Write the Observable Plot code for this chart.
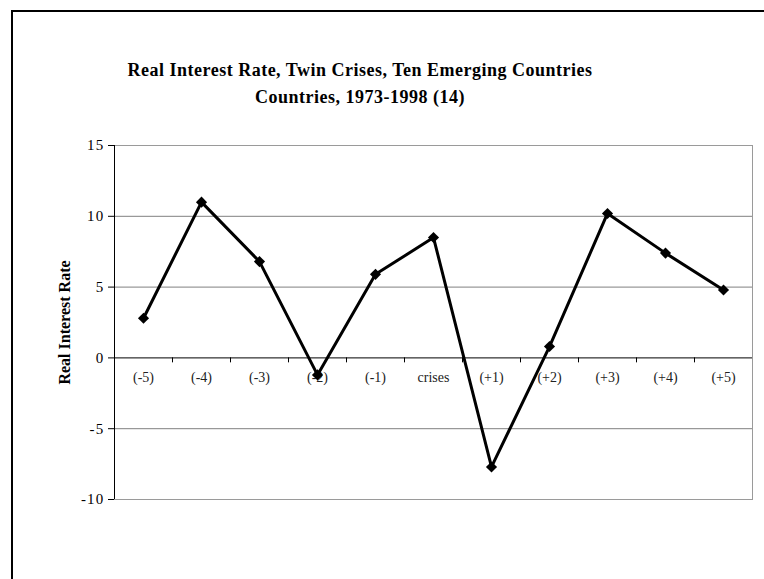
<!DOCTYPE html>
<html><head><meta charset="utf-8">
<script src="https://cdn.jsdelivr.net/npm/d3@7"></script>
<script src="https://cdn.jsdelivr.net/npm/@observablehq/plot@0.6"></script>
<style>
html,body{margin:0;padding:0;background:#fff;overflow:hidden;}
#page{position:relative;width:764px;height:579px;}
#border{position:absolute;left:11px;top:10px;width:800px;height:600px;border-left:2px solid #000;border-top:2px solid #000;}
#title{position:absolute;left:0;width:720px;top:57px;text-align:center;font-family:"Liberation Serif",serif;font-weight:bold;font-size:18px;line-height:27px;letter-spacing:0.5px;color:#000;}
#chart{position:absolute;left:0;top:0;}
#chart g[aria-label="y-axis tick label"]{font-size:15px;letter-spacing:1.2px;}
</style></head>
<body><div id="page"><div id="border"></div><div id="chart"></div><div id="title"></div></div>
<script>
const categories = ["(-5)", "(-4)", "(-3)", "(-2)", "(-1)", "crises", "(+1)", "(+2)", "(+3)", "(+4)", "(+5)"];
const values = [2.8, 11.0, 6.8, -1.2, 5.9, 8.5, -7.7, 0.8, 10.2, 7.4, 4.8];
const yTicks = [-10, -5, 0, 5, 10, 15];
const gridValues = [-5, 5, 10];
const yLabel = "Real Interest Rate";
const titleLines = ["Real Interest Rate, Twin Crises, Ten Emerging Countries", "Countries, 1973-1998 (14)"];

document.getElementById("title").innerHTML = titleLines.join("<br>");

const data = categories.map((c, i) => ({cat: c, pos: i + 0.5, value: values[i]}));
const boundaries = d3.range(1, categories.length);

const chart = Plot.plot({
  width: 764, height: 579,
  marginLeft: 114, marginRight: 12, marginTop: 145, marginBottom: 80,
  x: {domain: [0, categories.length], axis: null},
  y: {domain: [-10, 15], axis: null},
  style: {background: "transparent", fontFamily: "'Liberation Serif', serif", fontSize: "13px", color: "#000"},
  marks: [
    Plot.ruleY(gridValues, {stroke: "#808080", strokeWidth: 1}),
    Plot.frame({stroke: "#9a9a9a"}),
    Plot.ruleY([0], {stroke: "#000"}),
    Plot.ruleX(boundaries, {y1: 0, y2: -0.35, stroke: "#000"}),
    Plot.ruleX([0], {stroke: "#000"}),
    Plot.axisY(yTicks, {tickSize: 6, tickPadding: 4, label: null, tickFormat: d => String(d)}),
    Plot.text(data, {x: "pos", y: 0, text: "cat", dy: 20, fontSize: 14, fill: "#222"}),
    Plot.line(data, {x: "pos", y: "value", stroke: "#000", strokeWidth: 3}),
    Plot.dot(data, {x: "pos", y: "value", symbol: "diamond2", r: 5, fill: "#000", stroke: null}),
    Plot.text([yLabel], {frameAnchor: "left", textAnchor: "middle", rotate: -90, dx: -50, fontWeight: "bold", fontSize: 16})
  ]
});
document.getElementById("chart").appendChild(chart);
</script>
</body></html>
